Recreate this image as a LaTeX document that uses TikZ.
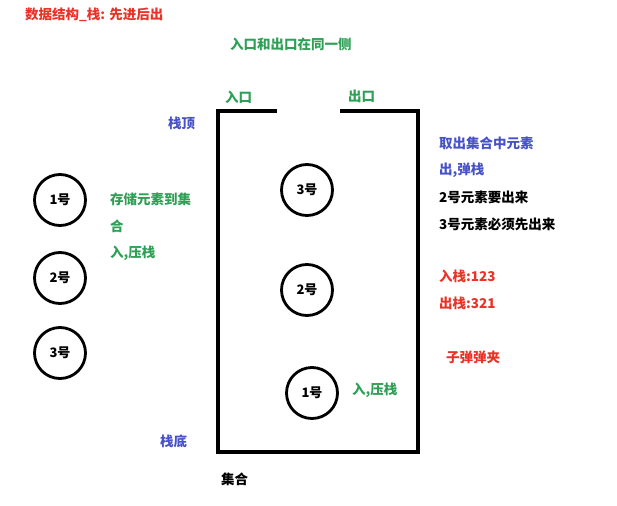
\documentclass[tikz,border=0pt]{standalone}
\usepackage{fontspec}
\setmainfont{Noto Sans CJK SC}
\begin{document}
\begin{tikzpicture}[x=1pt,y=-1pt,
  txt/.style={anchor=west,inner sep=0pt,font=\fontsize{13.5}{15}\selectfont\bfseries},
  red/.style={txt,text=myred},
  grn/.style={txt,text=mygreen},
  blu/.style={txt,text=myblue},
  blk/.style={txt,text=black},
  ball/.style={circle,draw=black,line width=2.8pt,minimum size=51pt,inner sep=0pt,font=\fontsize{13}{15}\selectfont\bfseries},
  wall/.style={line width=3.2pt,line cap=butt}]
\definecolor{myred}{RGB}{232,52,40}
\definecolor{mygreen}{RGB}{46,160,86}
\definecolor{myblue}{RGB}{72,82,200}
\useasboundingbox (0,0) rectangle (617,505);
\fill[white] (0,0) rectangle (617,505);
% titles
\node[red] (title) at (25,15) {数据结构\_栈: 先进后出};
\node[grn] (same) at (230,44) {入口和出口在同一侧};
\node[grn] (in) at (225,97) {入口};
\node[grn] (out) at (348,96) {出口};
\node[blu] (top) at (168,123) {栈顶};
\node[blu] (bottom) at (160,441) {栈底};
\node[blk] (set) at (221,479) {集合};
% stack container
\coordinate (tl) at (218,111);
\coordinate (tlend) at (277,111);
\coordinate (tr) at (418,111);
\coordinate (trend) at (340,111);
\coordinate (bl) at (218,452);
\coordinate (br) at (418,452);
\draw[wall] (tlend) -- (tl) -- (bl) -- (br) -- (tr) -- (trend);
% balls inside
\node[ball] (s3) at (307,190) {3号};
\node[ball] (s2) at (307,290) {2号};
\node[ball] (s1) at (312,393) {1号};
\node[grn] (push2) at (352,390) {入,压栈};
% balls outside
\node[ball] (b1) at (60,200) {1号};
\node[ball] (b2) at (60,278) {2号};
\node[ball] (b3) at (60,353) {3号};
\node[grn] (store1) at (110,199) {存储元素到集};
\node[grn] (store2) at (110,226) {合};
\node[grn] (push1) at (110,253) {入,压栈};
% right notes
\node[blu] (take) at (439,143) {取出集合中元素};
\node[blu] (pop) at (439,170) {出,弹栈};
\node[blk] (n2) at (439,197) {2号元素要出来};
\node[blk] (n3) at (439,224) {3号元素必须先出来};
\node[red] (inorder) at (439,276) {入栈:123};
\node[red] (outorder) at (439,303) {出栈:321};
\node[red] (clip) at (446,357) {子弹弹夹};
\end{tikzpicture}
\end{document}
